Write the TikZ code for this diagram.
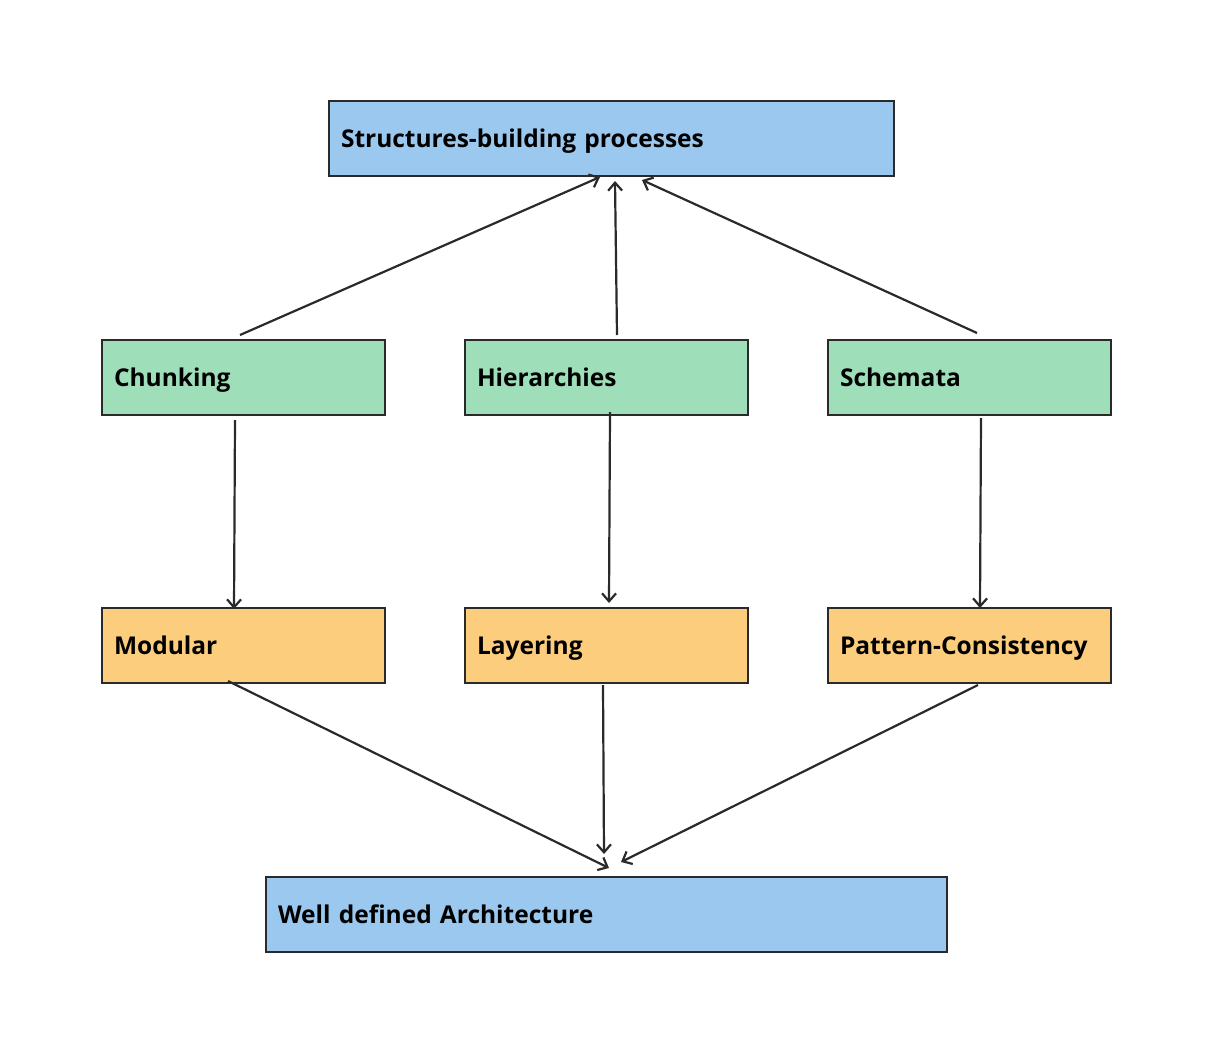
\documentclass[tikz,border=0pt]{standalone}
\usepackage{fontspec}
\setmainfont{Open Sans}
\usetikzlibrary{arrows.meta}
\definecolor{bluef}{HTML}{9AC8EE}
\definecolor{greenf}{HTML}{9EDFBA}
\definecolor{orangef}{HTML}{FBCD7C}
\definecolor{edge}{HTML}{2A2A2A}
\tikzset{
  box/.style={draw=edge, line width=2pt, anchor=north west, minimum height=75pt,
    align=left, inner xsep=12pt, text height=17pt, text depth=0pt,
    font=\fontsize{24.5}{28}\selectfont\bfseries, text=black},
  conn/.style={draw=edge, line width=2.2pt, -{Straight Barb[length=8pt,width=14pt,line width=2.2pt]}}
}
\begin{document}
\begin{tikzpicture}[x=1pt,y=-1pt]
\useasboundingbox (0,0) rectangle (1211,1052);
\node[box, fill=bluef, minimum width=565pt, text width=541pt] (top) at (328,100) {Structures-building processes};
\node[box, fill=greenf, minimum width=283pt, text width=259pt] (chunk) at (101,339) {Chunking};
\node[box, fill=greenf, minimum width=283pt, text width=259pt] (hier) at (464,339) {Hierarchies};
\node[box, fill=greenf, minimum width=283pt, text width=259pt] (schem) at (827,339) {Schemata};
\node[box, fill=orangef, minimum width=283pt, text width=259pt] (mod) at (101,607) {Modular};
\node[box, fill=orangef, minimum width=283pt, text width=259pt] (lay) at (464,607) {Layering};
\node[box, fill=orangef, minimum width=283pt, text width=259pt] (pat) at (827,607) {Pattern-Consistency};
\node[box, fill=bluef, minimum width=681pt, text width=657pt] (wda) at (265,876) {Well defined Architecture};
% connector end points
\coordinate (c1s) at (240,335); \coordinate (c1e) at (600,177);
\coordinate (c2s) at (617,335); \coordinate (c2e) at (615,181);
\coordinate (c3s) at (977,333); \coordinate (c3e) at (642,180);
\coordinate (c4s) at (235,420); \coordinate (c4e) at (234,609);
\coordinate (c5s) at (610,412); \coordinate (c5e) at (609,603);
\coordinate (c6s) at (981,418); \coordinate (c6e) at (980,608);
\coordinate (c7s) at (228,681); \coordinate (c7e) at (609,868);
\coordinate (c8s) at (603,685); \coordinate (c8e) at (604,854);
\coordinate (c9s) at (978,685); \coordinate (c9e) at (621,862);
\draw[conn] (c1s) -- (c1e);
\draw[conn] (c2s) -- (c2e);
\draw[conn] (c3s) -- (c3e);
\draw[conn] (c4s) -- (c4e);
\draw[conn] (c5s) -- (c5e);
\draw[conn] (c6s) -- (c6e);
\draw[conn] (c7s) -- (c7e);
\draw[conn] (c8s) -- (c8e);
\draw[conn] (c9s) -- (c9e);
\end{tikzpicture}
\end{document}
